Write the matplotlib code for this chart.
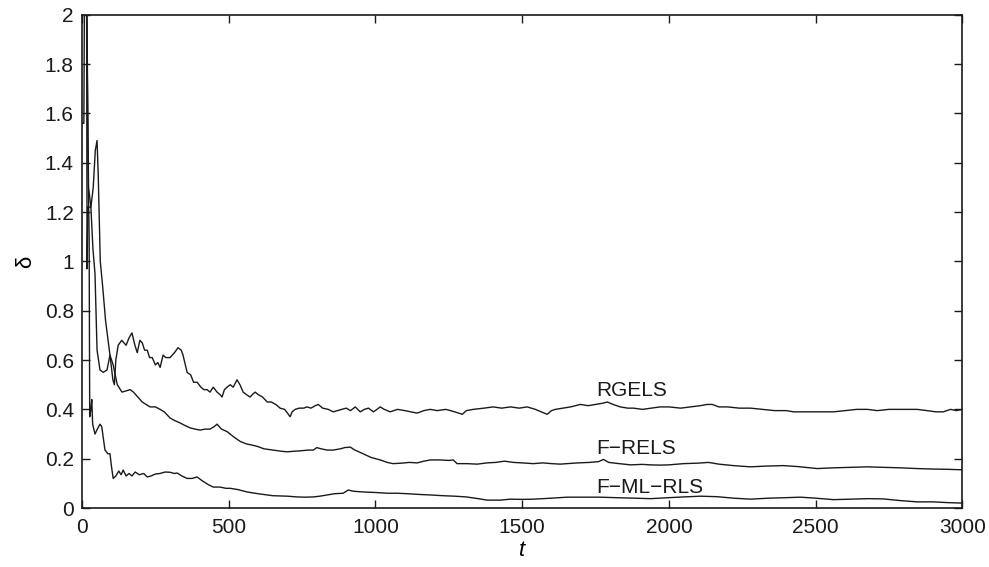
import matplotlib
matplotlib.use("Agg")
import matplotlib.pyplot as plt

plt.rcParams['font.family'] = ['Liberation Sans', 'DejaVu Sans']

# (t, delta) pairs
rgels = [
    (0, 3.0), (14, 3.0), (17, 0.97), (20, 1.22), (30, 1.22), (38, 1.30), (45, 1.45), (51, 1.49),
    (55, 1.35), (62, 1.00), (70, 0.90), (80, 0.76), (95, 0.62), (105, 0.52), (110, 0.50),
    (115, 0.60), (123, 0.66), (135, 0.68), (150, 0.66), (160, 0.69), (170, 0.71), (180, 0.66),
    (188, 0.63), (197, 0.68), (205, 0.67), (213, 0.64), (222, 0.64), (230, 0.61), (239, 0.61),
    (250, 0.58), (258, 0.59), (266, 0.57), (276, 0.62), (285, 0.61), (300, 0.61), (315, 0.63),
    (327, 0.65), (338, 0.64), (344, 0.62), (352, 0.58), (358, 0.55), (370, 0.54), (380, 0.51),
    (392, 0.51), (405, 0.49), (415, 0.48), (426, 0.48), (436, 0.47), (447, 0.49), (460, 0.47),
    (470, 0.46), (477, 0.45), (485, 0.48), (494, 0.49), (505, 0.50), (515, 0.49), (528, 0.52),
    (538, 0.50), (549, 0.47), (560, 0.46), (573, 0.45), (580, 0.46), (590, 0.47), (600, 0.46),
    (615, 0.45), (631, 0.43), (645, 0.43), (660, 0.42), (675, 0.405), (690, 0.40), (700, 0.385),
    (709, 0.37), (716, 0.39), (726, 0.40), (740, 0.405), (755, 0.405), (767, 0.41), (780, 0.405),
    (795, 0.415), (805, 0.42), (820, 0.405), (839, 0.40), (856, 0.39), (870, 0.395), (885, 0.40),
    (900, 0.405), (915, 0.395), (931, 0.41), (948, 0.39), (962, 0.40), (976, 0.405), (993, 0.39),
    (1005, 0.40), (1016, 0.41), (1030, 0.40), (1050, 0.39), (1075, 0.40), (1100, 0.395),
    (1120, 0.39), (1142, 0.385), (1165, 0.395), (1187, 0.40), (1210, 0.395), (1240, 0.40),
    (1270, 0.39), (1296, 0.38), (1310, 0.395), (1333, 0.40), (1370, 0.405), (1401, 0.41),
    (1430, 0.405), (1460, 0.41), (1490, 0.405), (1517, 0.41), (1545, 0.40), (1565, 0.39),
    (1585, 0.38), (1600, 0.395), (1613, 0.40), (1640, 0.405), (1665, 0.41), (1698, 0.42),
    (1725, 0.415), (1750, 0.42), (1775, 0.425), (1790, 0.43), (1810, 0.42), (1834, 0.41),
    (1860, 0.405), (1879, 0.405), (1910, 0.40), (1940, 0.405), (1970, 0.41), (2000, 0.41),
    (2040, 0.405), (2075, 0.41), (2107, 0.415), (2130, 0.42), (2148, 0.42), (2170, 0.41),
    (2200, 0.41), (2240, 0.405), (2278, 0.405), (2320, 0.40), (2360, 0.395), (2400, 0.395),
    (2425, 0.39), (2460, 0.39), (2500, 0.39), (2530, 0.39), (2561, 0.39), (2600, 0.395),
    (2640, 0.40), (2676, 0.40), (2710, 0.395), (2750, 0.40), (2790, 0.40), (2820, 0.40),
    (2846, 0.40), (2880, 0.395), (2910, 0.39), (2935, 0.39), (2960, 0.40), (2980, 0.395),
    (3000, 0.40),
]

f_rels = [
    (0, 1.56), (6, 1.56), (9, 2.3), (14, 2.3), (22, 1.30), (30, 1.22), (37, 1.05), (44, 0.95),
    (51, 0.64), (61, 0.56), (72, 0.55), (85, 0.56), (95, 0.62), (106, 0.58), (120, 0.50),
    (136, 0.47), (150, 0.475), (164, 0.48), (175, 0.47), (190, 0.45), (205, 0.43), (218, 0.42),
    (232, 0.41), (250, 0.41), (266, 0.40), (280, 0.39), (300, 0.365), (315, 0.355), (334, 0.345),
    (350, 0.335), (368, 0.325), (385, 0.32), (402, 0.316), (420, 0.32), (436, 0.32), (450, 0.33),
    (460, 0.34), (475, 0.32), (494, 0.31), (515, 0.29), (539, 0.27), (560, 0.26), (580, 0.255),
    (597, 0.25), (620, 0.24), (651, 0.235), (680, 0.23), (700, 0.228), (719, 0.23), (745, 0.232),
    (770, 0.235), (788, 0.235), (800, 0.245), (815, 0.24), (835, 0.235), (856, 0.235), (880, 0.24),
    (895, 0.245), (914, 0.247), (930, 0.235), (958, 0.22), (985, 0.205), (1016, 0.195),
    (1040, 0.185), (1060, 0.18), (1090, 0.182), (1115, 0.185), (1142, 0.183), (1165, 0.19),
    (1187, 0.195), (1220, 0.195), (1250, 0.193), (1265, 0.195), (1278, 0.18), (1310, 0.18),
    (1347, 0.178), (1380, 0.183), (1410, 0.185), (1440, 0.19), (1470, 0.185), (1500, 0.183),
    (1538, 0.18), (1570, 0.183), (1600, 0.18), (1630, 0.178), (1653, 0.18), (1690, 0.183),
    (1730, 0.185), (1760, 0.188), (1777, 0.197), (1795, 0.185), (1830, 0.18), (1870, 0.175),
    (1910, 0.177), (1937, 0.175), (1970, 0.174), (2000, 0.175), (2050, 0.18), (2100, 0.182),
    (2135, 0.185), (2170, 0.178), (2220, 0.172), (2278, 0.167), (2330, 0.17), (2390, 0.172),
    (2440, 0.168), (2506, 0.16), (2560, 0.163), (2620, 0.165), (2676, 0.167), (2730, 0.165),
    (2790, 0.163), (2846, 0.16), (2900, 0.158), (2950, 0.157), (3000, 0.155),
]

f_ml_rls = [
    (0, 2.5), (15, 2.2), (20, 1.4), (24, 1.1), (26, 0.37), (30, 0.40), (33, 0.44), (36, 0.34),
    (44, 0.30), (52, 0.32), (61, 0.34), (67, 0.33), (78, 0.235), (88, 0.22), (95, 0.22),
    (100, 0.17), (106, 0.12), (115, 0.13), (125, 0.15), (133, 0.135), (140, 0.154), (150, 0.13),
    (160, 0.14), (170, 0.13), (181, 0.146), (195, 0.135), (210, 0.14), (222, 0.126), (235, 0.13),
    (250, 0.138), (265, 0.14), (283, 0.146), (300, 0.145), (315, 0.14), (324, 0.142), (340, 0.13),
    (358, 0.12), (375, 0.12), (392, 0.126), (410, 0.11), (430, 0.095), (447, 0.085), (470, 0.085),
    (490, 0.08), (505, 0.08), (530, 0.075), (563, 0.065), (600, 0.058), (631, 0.053), (650, 0.05),
    (675, 0.049), (700, 0.048), (733, 0.045), (760, 0.044), (788, 0.045), (810, 0.048),
    (835, 0.053), (860, 0.058), (890, 0.06), (907, 0.073), (925, 0.068), (960, 0.065),
    (1000, 0.063), (1040, 0.06), (1074, 0.06), (1110, 0.058), (1150, 0.055), (1187, 0.053),
    (1230, 0.05), (1270, 0.048), (1310, 0.045), (1350, 0.038), (1381, 0.032), (1425, 0.032),
    (1460, 0.036), (1500, 0.035), (1540, 0.036), (1600, 0.04), (1653, 0.044), (1700, 0.044),
    (1766, 0.044), (1820, 0.042), (1880, 0.04), (1937, 0.038), (2000, 0.042), (2050, 0.045),
    (2107, 0.048), (2164, 0.046), (2220, 0.04), (2278, 0.036), (2340, 0.04), (2400, 0.042),
    (2448, 0.044), (2500, 0.04), (2561, 0.034), (2620, 0.036), (2680, 0.038), (2731, 0.037),
    (2790, 0.03), (2846, 0.025), (2900, 0.025), (2950, 0.022), (3000, 0.02),
]

series_names = ['RGELS', 'F\u2212RELS', 'F\u2212ML\u2212RLS']
label_t = [1752, 1752, 1752]
label_d = [0.475, 0.24, 0.085]

x_ticks = [0, 500, 1000, 1500, 2000, 2500, 3000]
y_ticks = [0, 0.2, 0.4, 0.6, 0.8, 1, 1.2, 1.4, 1.6, 1.8, 2]

fig = plt.figure(figsize=(9.89, 5.67), dpi=100)
ax = fig.add_axes([0.083, 0.104, 0.890, 0.870])

for data in (rgels, f_rels, f_ml_rls):
    t = [p[0] for p in data]
    d = [p[1] for p in data]
    ax.plot(t, d, color='#1a1a1a', linewidth=1.0)

for name, tx, ty in zip(series_names, label_t, label_d):
    ax.text(tx, ty, name, fontsize=15, va='center', ha='left', color='#1a1a1a')

ax.set_xlim(0, 3000)
ax.set_ylim(0, 2)
ax.set_xticks(x_ticks)
ax.set_yticks(y_ticks)
ax.set_yticklabels(['0', '0.2', '0.4', '0.6', '0.8', '1', '1.2', '1.4', '1.6', '1.8', '2'])
ax.tick_params(direction='in', length=6, width=1, top=True, right=True,
               labelsize=15, colors='#1a1a1a')
ax.tick_params(axis='x', pad=7)
ax.tick_params(axis='y', pad=6)
for s in ax.spines.values():
    s.set_linewidth(1.2)
    s.set_color('#1a1a1a')

ax.set_xlabel('t', fontsize=16, style='italic', labelpad=2)
ax.set_ylabel('\u03b4', fontsize=16, labelpad=6)

fig.savefig('out.png', dpi=100)
